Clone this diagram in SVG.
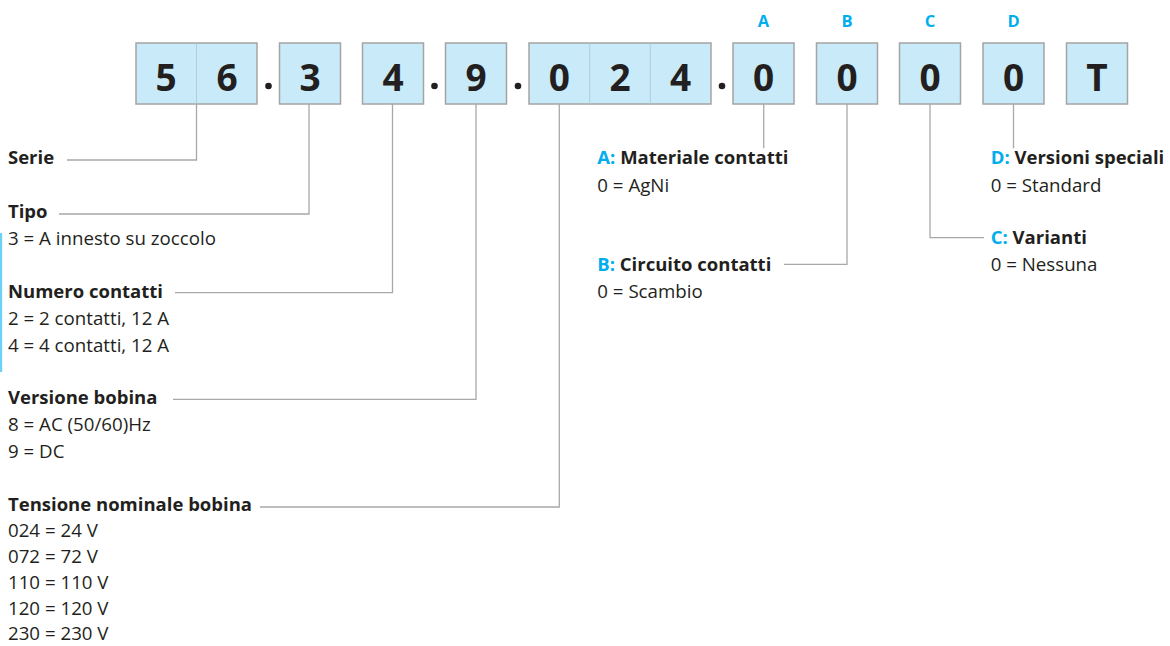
<svg xmlns="http://www.w3.org/2000/svg" width="1170" height="646" viewBox="0 0 1170 646">
<style>
.box{fill:#c8eaf9;stroke:#a4a4a4;stroke-width:1.5}
.div{stroke:#b0cdda;stroke-width:1}
.dg{font-family:"Open Sans","Liberation Sans",sans-serif;font-weight:700;font-size:37px;fill:#231f20;text-anchor:middle}
.lt{font-family:"Open Sans","Liberation Sans",sans-serif;font-weight:700;font-size:16.5px;fill:#00aeef;text-anchor:middle}
.t{font-family:"Open Sans","Liberation Sans",sans-serif;font-size:18.7px;fill:#231f20}
.b{font-weight:700;font-size:18.5px}
.k{fill:#00aeef;font-weight:700}
.cn{fill:none;stroke:#a8a8a8;stroke-width:1.3}
</style>
<rect width="1170" height="646" fill="#ffffff"/>
<g id="code">
<g id="box-56"><rect class="box" x="136" y="43" width="121" height="61"/><line class="div" x1="196.5" y1="43.5" x2="196.5" y2="103.5"/><text class="dg" x="166" y="91">5</text><text class="dg" x="227" y="91">6</text></g>
<g id="box-3"><rect class="box" x="279.5" y="43" width="61" height="61"/><text class="dg" x="310" y="91">3</text></g>
<g id="box-4"><rect class="box" x="362.5" y="43" width="61" height="61"/><text class="dg" x="393" y="91">4</text></g>
<g id="box-9"><rect class="box" x="445.5" y="43" width="61" height="61"/><text class="dg" x="476" y="91">9</text></g>
<g id="box-024"><rect class="box" x="529" y="43" width="182" height="61"/><line class="div" x1="589.7" y1="43.5" x2="589.7" y2="103.5"/><line class="div" x1="650.3" y1="43.5" x2="650.3" y2="103.5"/><text class="dg" x="559.3" y="91">0</text><text class="dg" x="620" y="91">2</text><text class="dg" x="680.7" y="91">4</text></g>
<g id="box-A"><rect class="box" x="733" y="43" width="61" height="61"/><text class="dg" x="763.5" y="91">0</text><text class="lt" x="763.5" y="27">A</text></g>
<g id="box-B"><rect class="box" x="816.5" y="43" width="61" height="61"/><text class="dg" x="847" y="91">0</text><text class="lt" x="847" y="27">B</text></g>
<g id="box-C"><rect class="box" x="899.5" y="43" width="61" height="61"/><text class="dg" x="930" y="91">0</text><text class="lt" x="930" y="27">C</text></g>
<g id="box-D"><rect class="box" x="983" y="43" width="61" height="61"/><text class="dg" x="1013.5" y="91">0</text><text class="lt" x="1013.5" y="27">D</text></g>
<g id="box-T"><rect class="box" x="1066.5" y="43" width="61" height="61"/><text class="dg" x="1097" y="91">T</text></g>
<g id="dots" fill="#231f20"><circle cx="268.5" cy="86" r="3.3"/><circle cx="434.5" cy="86" r="3.3"/><circle cx="518" cy="86" r="3.3"/><circle cx="722" cy="86" r="3.3"/></g>
</g>
<g id="connectors">
<polyline class="cn" points="196.5,104 196.5,160 67,160"/>
<polyline class="cn" points="309,104 309,214 59,214"/>
<polyline class="cn" points="392.5,104 392.5,292.7 175,292.7"/>
<polyline class="cn" points="476,104 476,399.3 173,399.3"/>
<polyline class="cn" points="559.3,104 559.3,507 260,507"/>
<polyline class="cn" points="763.7,104 763.7,148.3"/>
<polyline class="cn" points="847,104 847,264.3 784,264.3"/>
<polyline class="cn" points="930,104 930,237.7 984,237.7"/>
<polyline class="cn" points="1013.5,104 1013.5,148.3"/>
</g>
<rect id="accent" x="0" y="233" width="2.2" height="139" fill="#6dd0f5"/>
<g id="serie"><text class="t b" x="8" y="164.3">Serie</text></g>
<g id="tipo"><text class="t b" x="8" y="218.3">Tipo</text><text class="t" x="8" y="245">3 = A innesto su zoccolo</text></g>
<g id="numero"><text class="t b" x="8" y="297.7">Numero contatti</text><text class="t" x="8" y="325">2 = 2 contatti, 12 A</text><text class="t" x="8" y="351.7">4 = 4 contatti, 12 A</text></g>
<g id="versione"><text class="t b" x="8" y="404">Versione bobina</text><text class="t" x="8" y="430.5">8 = AC (50/60)Hz</text><text class="t" x="8" y="457.5">9 = DC</text></g>
<g id="tensione"><text class="t b" x="8" y="511">Tensione nominale bobina</text><text class="t" x="8" y="537">024 = 24 V</text><text class="t" x="8" y="563">072 = 72 V</text><text class="t" x="8" y="589">110 = 110 V</text><text class="t" x="8" y="615">120 = 120 V</text><text class="t" x="8" y="640">230 = 230 V</text></g>
<g id="materiale"><text class="t b" x="597.3" y="164.3"><tspan class="k">A:</tspan> Materiale contatti</text><text class="t" x="597.3" y="191.7">0 = AgNi</text></g>
<g id="circuito"><text class="t b" x="597.3" y="271"><tspan class="k">B:</tspan> Circuito contatti</text><text class="t" x="597.3" y="297.7">0 = Scambio</text></g>
<g id="speciali"><text class="t b" x="990.7" y="164.3"><tspan class="k">D:</tspan> Versioni speciali</text><text class="t" x="990.7" y="191.7">0 = Standard</text></g>
<g id="varianti"><text class="t b" x="990.7" y="244.3"><tspan class="k">C:</tspan> Varianti</text><text class="t" x="990.7" y="271">0 = Nessuna</text></g>
</svg>
